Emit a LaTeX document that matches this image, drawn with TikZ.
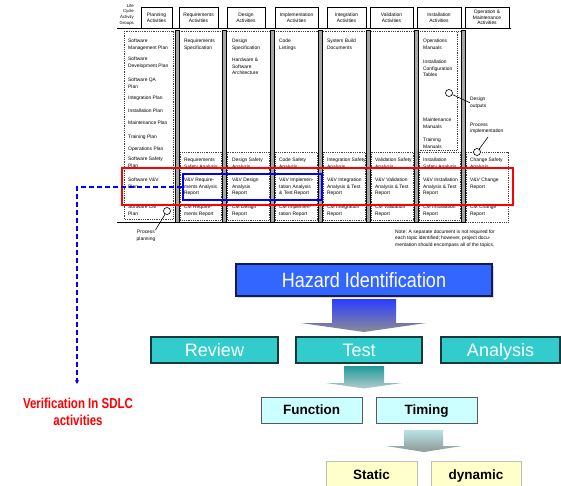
\documentclass[tikz,border=0pt]{standalone}
\usepackage{fontspec}
\setmainfont{Liberation Sans}
\usetikzlibrary{arrows.meta,shadows}
\definecolor{hzblue}{HTML}{3366FF}
\definecolor{hzborder}{HTML}{1A1A4D}
\definecolor{tealfill}{HTML}{33CCCC}
\definecolor{tealborder}{HTML}{123A3A}
\definecolor{cyanfill}{HTML}{CCFFFF}
\definecolor{yelfill}{HTML}{FFFFCC}
\definecolor{aonetop}{HTML}{2A3CFF}
\definecolor{aonebot}{HTML}{8C8C96}
\definecolor{atwotop}{HTML}{1E9A9A}
\definecolor{atwobot}{HTML}{B4CCCC}
\definecolor{athreetop}{HTML}{B8E4E4}
\definecolor{athreebot}{HTML}{8E9696}
\newcommand{\tabtxt}[4]{\node[tbl] (#1) at ({#2},{#3-1.8}) {#4};}
\begin{document}
\begin{tikzpicture}[x=1pt,y=-1pt,
  tbl/.style={font=\fontsize{4.9}{6.2}\selectfont, align=left, anchor=north west, inner sep=0},
  hdrbox/.style={draw, line width=0.8, fill=white, font=\fontsize{4.9}{5.6}\selectfont, align=center, inner sep=0, minimum height=21},
  sepbar/.style={draw=black, fill=gray!70, line width=0.5},
  dotbox/.style={draw=gray!55!black, densely dotted, line width=0.8},
  pin/.style={draw=black, fill=white, line width=0.6},
  bigbox/.style={line width=1.2, inner sep=0, minimum height=26, text=white, font=\fontsize{18}{20}\selectfont, text height=14, text depth=1.1},
  smallbox/.style={line width=0.8, inner sep=0, minimum height=26, font=\fontsize{13.5}{16}\selectfont\bfseries, text height=10.5, text depth=0.8}]
\useasboundingbox (0,0) rectangle (561,486);

% ---------- header ----------
\node[font=\fontsize{4.3}{5.6}\selectfont, align=right, anchor=east, inner sep=0] (lcag) at (134,14.5) {Life\\Cycle\\Activity\\Groups};
\node[hdrbox, minimum width=31] (h1) at (156.5,17.5) {Planning\\Activities};
\node[hdrbox, minimum width=39] (h2) at (198.5,17.5) {Requirements\\Activities};
\node[hdrbox, minimum width=38] (h3) at (246,17.5) {Design\\Activities};
\node[hdrbox, minimum width=43] (h4) at (296.5,17.5) {Implementation\\Activities};
\node[hdrbox, minimum width=39] (h5) at (346.5,17.5) {Integration\\Activities};
\node[hdrbox, minimum width=43] (h6) at (391.5,17.5) {Validation\\Activities};
\node[hdrbox, minimum width=44] (h7) at (439,17.5) {Installation\\Activities};
\node[hdrbox, minimum width=44] (h8) at (487,17.5) {Operation \&\\Maintenance\\Activities};
\draw[line width=1] (117,29) -- (511,29);

% ---------- dotted boxes ----------
\draw[dotbox] (177,31) -- (463,31);
\draw[dotbox] (124,31) rectangle (173,219);
\draw[dotbox] (418,31) rectangle (457,150);
\foreach \a/\b in {177/224.5,224.5/272,272/320,320/368,368/416,416/463}
  \draw[dotbox] ({\a+3},152) rectangle ({\b-3},220);
\draw[dotbox] (466,152) rectangle (508,222);
\draw[line width=0.8] (117,222) -- (466,222);
\foreach \s in {177,224.5,272,320,368,416,463}
  \draw[sepbar] ({\s-2},30) rectangle ({\s+2},222);

% ---------- planning column ----------
\tabtxt{p1}{128}{41}{Software\\Management Plan}
\tabtxt{p2}{128}{59}{Software\\Development Plan}
\tabtxt{p3}{128}{80}{Software QA\\Plan}
\tabtxt{p4}{128}{98}{Integration Plan}
\tabtxt{p5}{128}{111}{Installation Plan}
\tabtxt{p6}{128}{123}{Maintenance Plan}
\tabtxt{p7}{128}{137}{Training Plan}
\tabtxt{p8}{128}{149}{Operations Plan}
\tabtxt{p9}{128}{159}{Software Safety\\Plan}
\tabtxt{p10}{128}{180}{Software V\&V\\Plan}
\tabtxt{p11}{128}{207}{Software CM\\Plan}

% ---------- top items ----------
\tabtxt{r1}{184}{41}{Requirements\\Specification}
\tabtxt{d1}{232}{41}{Design\\Specification}
\tabtxt{d2}{232}{60}{Hardware \&\\Software\\Architecture}
\tabtxt{i1}{279}{41}{Code\\Listings}
\tabtxt{g1}{327}{41}{System Build\\Documents}
\tabtxt{n1}{423}{41}{Operations\\Manuals}
\tabtxt{n2}{423}{62}{Installation\\Configuration\\Tables}
\tabtxt{n3}{423}{120}{Maintenance\\Manuals}
\tabtxt{n4}{423}{140}{Training\\Manuals}
\tabtxt{o1}{470}{99}{Design\\outputs}
\tabtxt{o2}{470}{125}{Process\\implementation}

% ---------- lower rows ----------
\tabtxt{r2}{184}{160}{Requirements\\Safety Analysis}
\tabtxt{r3}{184}{180}{V\&V Require-\\ments Analysis\\Report}
\tabtxt{r4}{184}{207}{CM Require-\\ments Report}
\tabtxt{d3}{232}{160}{Design Safety\\Analysis}
\tabtxt{d4}{232}{180}{V\&V Design\\Analysis\\Report}
\tabtxt{d5}{232}{207}{CM Design\\Report}
\tabtxt{i2}{279}{160}{Code Safety\\Analysis}
\tabtxt{i3}{279}{180}{V\&V Implemen-\\tation Analysis\\\& Test Report}
\tabtxt{i4}{279}{207}{CM Implemen-\\tation Report}
\tabtxt{g2}{327}{160}{Integration Safety\\Analysis}
\tabtxt{g3}{327}{180}{V\&V Integration\\Analysis \& Test\\Report}
\tabtxt{g4}{327}{207}{CM Integration\\Report}
\tabtxt{v2}{375}{160}{Validation Safety\\Analysis}
\tabtxt{v3}{375}{180}{V\&V Validation\\Analysis \& Test\\Report}
\tabtxt{v4}{375}{207}{CM Validation\\Report}
\tabtxt{n5}{423}{160}{Installation\\Safety Analysis}
\tabtxt{n6}{423}{180}{V\&V Installation\\Analysis \& Test\\Report}
\tabtxt{n7}{423}{207}{CM Installation\\Report}
\tabtxt{o3}{470}{160}{Change Safety\\Analysis}
\tabtxt{o4}{470}{180}{V\&V Change\\Report}
\tabtxt{o5}{470}{207}{CM Change\\Report}

% ---------- pins ----------
\node[pin, circle, inner sep=0, minimum size=7] (c1) at (167,211) {};
\node[font=\fontsize{4.9}{7}\selectfont, align=center, anchor=north, inner sep=0] (pp) at (146,230) {Process\\planning};
\draw[line width=0.6] (c1) -- (pp.north east);
\node[pin, circle, inner sep=0, minimum size=7] (c2) at (449,93) {};
\draw[line width=0.6] (c2) -- (o1.west);
\node[pin, circle, inner sep=0, minimum size=7] (c3) at (477,152) {};
\draw[line width=0.6] (c3) -- (488,137);

% ---------- note ----------
\node[font=\fontsize{4.9}{6.5}\selectfont, align=left, anchor=north west, inner sep=0] (note) at (395,229.5) {Note: A separate document is not required for\\each topic identified; however, project docu-\\mentation should encompass all of the topics.};

% ---------- highlight rectangles ----------
\node[draw=red, line width=2, minimum width=391, minimum height=37, inner sep=0] (redbox) at (317.5,186.5) {};
\node[draw=blue, line width=2, minimum width=139, minimum height=26, inner sep=0] (vvbox) at (252.5,187) {};
\coordinate (vtip) at (77,384);
\draw[blue, line width=1.5, dash pattern=on 5pt off 3pt, -{Stealth[length=4pt,width=4pt]}] (vvbox.west) -| (vtip);
\node[text=red, font=\fontsize{11.5}{17}\selectfont\bfseries, align=center, inner sep=0] (verif) at (78,411.5) {\scalebox{1}[1.25]{Verification In SDLC}\\\scalebox{1}[1.25]{activities}};

% ---------- lower diagram ----------
\node[bigbox, fill=hzblue, draw=hzborder, minimum width=256, minimum height=32, text height=15.6, text depth=0.8, drop shadow={shadow xshift=1.5pt, shadow yshift=-1.5pt, fill=gray!60}] (hz) at (364,280) {\scalebox{1}[1.15]{Hazard Identification}};
\shade[top color=aonetop, bottom color=aonebot] (332,299) -- (396,299) -- (396,323) -- (426,323) -- (364,332) -- (301,323) -- (332,323) -- cycle;

\node[bigbox, fill=tealfill, draw=tealborder, minimum width=127] (rv) at (214.5,350) {Review};
\node[bigbox, fill=tealfill, draw=tealborder, minimum width=126] (ts) at (359,350) {Test};
\node[bigbox, fill=tealfill, draw=tealborder, minimum width=119] (an) at (500.5,350) {Analysis};
\shade[top color=atwotop, bottom color=atwobot] (344,366) -- (384,366) -- (384,383) -- (402,383) -- (364,388.5) -- (326,383) -- (344,383) -- cycle;

\node[smallbox, fill=cyanfill, draw=gray!70!black, minimum width=101] (fn) at (311.5,410) {Function};
\node[smallbox, fill=cyanfill, draw=gray!70!black, minimum width=101] (tm) at (426.5,410) {Timing};
\shade[top color=athreetop, bottom color=athreebot] (404,430) -- (443,430) -- (443,446) -- (462,446) -- (424,452) -- (386,446) -- (404,446) -- cycle;

\node[smallbox, fill=yelfill, draw=gray!50, minimum width=91] (st) at (371.5,474.5) {Static};
\node[smallbox, fill=yelfill, draw=gray!50, minimum width=90] (dy) at (476,474.5) {dynamic};
\end{tikzpicture}
\end{document}
